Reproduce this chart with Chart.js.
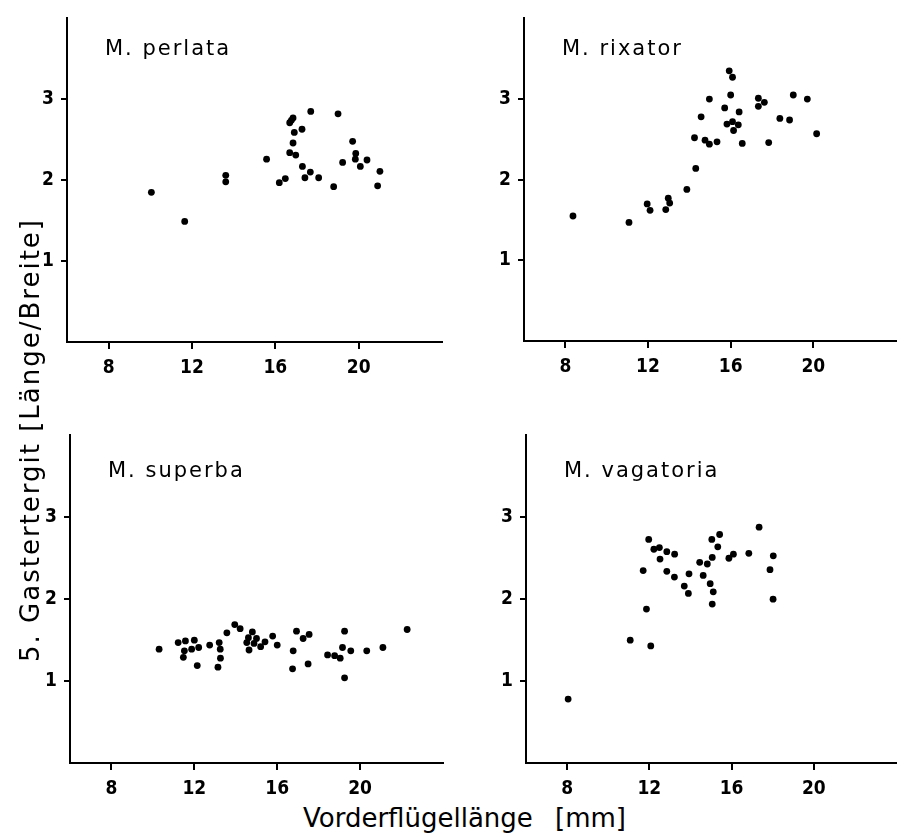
<!DOCTYPE html>
<html>
<head>
<meta charset="utf-8">
<script src="https://cdn.jsdelivr.net/npm/chart.js@4.4.0/dist/chart.umd.min.js"></script>
<style>
  body { margin: 0; background: #fff; width: 900px; height: 840px; position: relative; overflow: hidden; font-family: "DejaVu Sans", sans-serif; }
  canvas { position: absolute; }
  .axis-title { position: absolute; font-size: 26px; white-space: pre; color: #000; line-height: 26px; }
  #yTitle { letter-spacing: 2px; transform: rotate(-90deg); transform-origin: center center; }
</style>
</head>
<body>
<canvas id="perlata" width="420" height="382" style="left:27px;top:0px"></canvas>
<canvas id="rixator" width="416" height="381" style="left:484px;top:0px"></canvas>
<canvas id="superba" width="418" height="386" style="left:30px;top:417px"></canvas>
<canvas id="vagatoria" width="414" height="386" style="left:486px;top:417px"></canvas>
<div class="axis-title" style="left:303px;top:805px">Vorderflügellänge</div>
<div class="axis-title" style="left:555px;top:805px">[mm]</div>
<div class="axis-title" id="yTitle">5. Gastertergit [Länge/Breite]</div>
<script>
// Werte
const xTicks = [8, 12, 16, 20];
const yTicks = [1, 2, 3];

const perlataX = [10.05, 11.65, 13.62, 13.62, 15.58, 16.19, 16.48, 16.69, 16.77, 16.85, 16.91, 16.85, 16.69, 16.98, 17.28, 17.70, 17.30, 17.42, 17.68, 18.08, 18.80, 19.01, 19.23, 19.71, 19.86, 19.84, 20.08, 20.40, 21.02, 20.91];
const perlataY = [1.85, 1.49, 2.06, 1.98, 2.26, 1.97, 2.02, 2.71, 2.74, 2.77, 2.59, 2.46, 2.34, 2.31, 2.63, 2.85, 2.17, 2.03, 2.10, 2.03, 1.92, 2.82, 2.22, 2.48, 2.33, 2.26, 2.17, 2.25, 2.11, 1.93];

const rixatorX = [8.37, 11.08, 11.96, 12.10, 12.86, 12.98, 13.05, 13.88, 14.31, 14.25, 14.57, 14.76, 14.97, 15.34, 14.97, 15.71, 15.82, 15.93, 16.09, 16.00, 16.09, 16.14, 16.37, 16.41, 16.56, 17.34, 17.34, 17.63, 17.84, 18.38, 18.85, 19.03, 19.71, 20.16];
const rixatorY = [1.55, 1.47, 1.70, 1.62, 1.63, 1.77, 1.71, 1.88, 2.14, 2.52, 2.78, 2.49, 2.44, 2.47, 3.00, 2.89, 2.69, 3.35, 3.27, 3.05, 2.72, 2.61, 2.68, 2.84, 2.45, 3.01, 2.91, 2.96, 2.46, 2.76, 2.74, 3.05, 3.00, 2.57];

const superbaX = [10.30, 11.22, 11.57, 11.52, 11.47, 11.87, 12.00, 12.21, 12.14, 12.74, 13.20, 13.25, 13.26, 13.14, 13.57, 13.95, 14.21, 14.53, 14.61, 14.64, 14.80, 14.88, 15.00, 15.20, 15.41, 15.78, 16.00, 16.77, 16.74, 16.93, 17.25, 17.54, 17.49, 18.43, 18.77, 19.04, 19.15, 19.25, 19.55, 19.25, 20.32, 21.10, 22.27];
const superbaY = [1.39, 1.47, 1.49, 1.37, 1.29, 1.39, 1.50, 1.41, 1.19, 1.44, 1.47, 1.39, 1.28, 1.17, 1.59, 1.69, 1.64, 1.47, 1.53, 1.38, 1.60, 1.46, 1.52, 1.42, 1.48, 1.55, 1.44, 1.37, 1.15, 1.61, 1.52, 1.57, 1.21, 1.32, 1.31, 1.28, 1.41, 1.61, 1.37, 1.04, 1.37, 1.41, 1.63];

const vagatoriaX = [8.05, 11.07, 12.07, 11.86, 11.70, 11.97, 12.22, 12.49, 12.52, 12.85, 12.85, 13.23, 13.22, 13.93, 13.70, 13.90, 14.45, 14.62, 14.82, 14.96, 15.11, 15.06, 15.06, 15.04, 15.33, 15.42, 15.87, 16.09, 16.84, 17.34, 17.87, 18.03, 18.02];
const vagatoriaY = [0.78, 1.50, 1.43, 1.88, 2.35, 2.73, 2.61, 2.63, 2.49, 2.58, 2.34, 2.55, 2.27, 2.31, 2.16, 2.07, 2.45, 2.29, 2.43, 2.19, 2.09, 1.94, 2.51, 2.73, 2.64, 2.79, 2.50, 2.55, 2.56, 2.88, 2.36, 2.53, 2.00];

const tickFont = { family: '"Liberation Sans Narrow", "DejaVu Sans Condensed", "DejaVu Sans"', size: 19, weight: 'bold' };

// Artname oben links im Diagramm
const speciesLabel = {
    id: 'speciesLabel',
    afterDraw(chart, args, opts) {
        const ctx = chart.ctx;
        const area = chart.chartArea;
        ctx.save();
        ctx.font = '21px "DejaVu Sans"';
        ctx.letterSpacing = '2px';
        ctx.fillStyle = '#000';
        ctx.textBaseline = 'alphabetic';
        ctx.fillText(opts.text, area.left + 38, area.top + opts.dy);
        ctx.restore();
    }
};

function makePanel(id, xs, ys, name, padRight, labelDy) {
    const points = xs.map((x, i) => ({ x: x, y: ys[i] }));
    new Chart(document.getElementById(id), {
        type: 'scatter',
        data: {
            datasets: [{
                data: points,
                backgroundColor: '#000',
                borderWidth: 0,
                pointRadius: 3.4,
            }],
        },
        options: {
            responsive: false,
            animation: false,
            layout: { padding: { top: 10, right: padRight, left: 0, bottom: 0 } },
            plugins: {
                legend: { display: false },
                tooltip: { enabled: false },
                speciesLabel: { text: name, dy: labelDy },
            },
            scales: {
                x: {
                    type: 'linear',
                    min: 6,
                    max: 24,
                    afterBuildTicks: (scale) => { scale.ticks = xTicks.map(v => ({ value: v })); },
                    afterFit: (scale) => { scale.height = 40; },
                    border: { display: true, color: '#000', width: 2 },
                    grid: { display: true, drawOnChartArea: false, drawTicks: true, tickLength: 7, color: '#000', lineWidth: 2 },
                    ticks: { color: '#000', padding: 8, maxRotation: 0, font: tickFont },
                },
                y: {
                    type: 'linear',
                    min: 0,
                    max: 4,
                    afterBuildTicks: (scale) => { scale.ticks = yTicks.map(v => ({ value: v })); },
                    afterFit: (scale) => { scale.width = 40; },
                    border: { display: true, color: '#000', width: 2 },
                    grid: { display: true, drawOnChartArea: false, drawTicks: true, tickLength: 6, color: '#000', lineWidth: 2 },
                    ticks: { color: '#000', padding: 7, font: tickFont },
                },
            },
        },
        plugins: [speciesLabel],
    });
}

makePanel('perlata', perlataX, perlataY, 'M. perlata', 5, 37);
makePanel('rixator', rixatorX, rixatorY, 'M. rixator', 2, 37);
makePanel('superba', superbaX, superbaY, 'M. superba', 5, 42);
makePanel('vagatoria', vagatoriaX, vagatoriaY, 'M. vagatoria', 2, 42);

// y-Achsentitel mittig drehen
const yt = document.getElementById('yTitle');
const w = yt.offsetWidth, h = yt.offsetHeight;
yt.style.left = (30 - w / 2) + 'px';
yt.style.top = (440 - h / 2) + 'px';
</script>
</body>
</html>
